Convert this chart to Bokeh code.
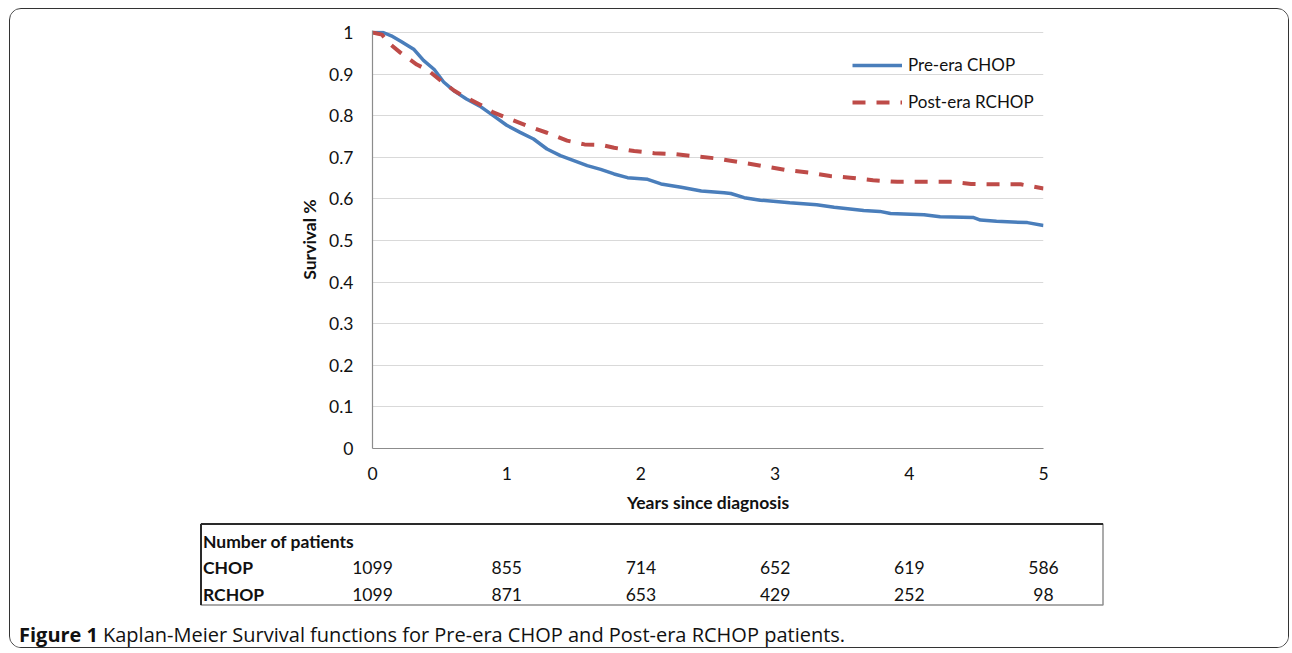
from bokeh.plotting import figure
from bokeh.layouts import column
from bokeh.models import Range1d, FixedTicker, Legend, LegendItem
from bokeh.core.properties import value
from bokeh.embed import file_html
from bokeh.resources import INLINE

# ---------------- data ----------------
chop_years = [0.00, 0.08, 0.14, 0.21, 0.31, 0.38, 0.46, 0.53, 0.61, 0.70, 0.80, 0.90,
              1.00, 1.10, 1.20, 1.30, 1.40, 1.50, 1.60, 1.70, 1.80, 1.90, 2.05, 2.15,
              2.30, 2.45, 2.62, 2.67, 2.77, 2.89, 3.11, 3.31, 3.44, 3.66, 3.78, 3.86,
              4.11, 4.23, 4.48, 4.53, 4.65, 4.88, 5.00]
chop_surv = [1.000, 1.000, 0.992, 0.979, 0.959, 0.933, 0.911, 0.881, 0.859, 0.840, 0.823, 0.800,
             0.777, 0.760, 0.744, 0.720, 0.704, 0.692, 0.680, 0.671, 0.660, 0.651, 0.647, 0.636,
             0.628, 0.619, 0.615, 0.613, 0.603, 0.597, 0.591, 0.586, 0.580, 0.572, 0.570, 0.565,
             0.562, 0.557, 0.555, 0.549, 0.546, 0.543, 0.536]

rchop_years = [0.00, 0.07, 0.12, 0.21, 0.33, 0.41, 0.51, 0.61, 0.70, 0.80, 0.90, 1.00,
               1.15, 1.30, 1.45, 1.58, 1.70, 1.80, 1.95, 2.10, 2.24, 2.39, 2.57, 2.74,
               2.91, 3.09, 3.26, 3.41, 3.56, 3.73, 3.91, 4.13, 4.31, 4.46, 4.66, 4.83, 5.00]
rchop_surv = [1.000, 0.995, 0.975, 0.951, 0.923, 0.910, 0.884, 0.860, 0.843, 0.827, 0.808, 0.795,
              0.776, 0.759, 0.740, 0.731, 0.730, 0.723, 0.715, 0.710, 0.708, 0.703, 0.697, 0.688,
              0.679, 0.669, 0.663, 0.655, 0.651, 0.645, 0.641, 0.641, 0.641, 0.636, 0.635, 0.635, 0.625]

series_labels = ["Pre-era CHOP", "Post-era RCHOP"]

x_ticks = [0, 1, 2, 3, 4, 5]
y_ticks = [0, 0.1, 0.2, 0.3, 0.4, 0.5, 0.6, 0.7, 0.8, 0.9, 1]
y_tick_labels = ["0", "0.1", "0.2", "0.3", "0.4", "0.5", "0.6", "0.7", "0.8", "0.9", "1"]

table_title = "Number of patients"
table_rows = ["CHOP", "RCHOP"]
table_years = [0, 1, 2, 3, 4, 5]
chop_at_risk = [1099, 855, 714, 652, 619, 586]
rchop_at_risk = [1099, 871, 653, 429, 252, 98]

x_title = "Years since diagnosis"
y_title = "Survival %"
caption_bold = "Figure 1"
caption_text = "Kaplan-Meier Survival functions for Pre-era CHOP and Post-era RCHOP patients."

# ---------------- layout ----------------
MX, MY, BW = 9, 8, 1.5            # outer box offset on page, border width
OX, OY = MX + BW, MY + BW          # content origin on page
W = 1278                           # content width
H1, H2 = 512, 126                  # chart part / table part heights
FL, FR, FT, FB = 362, 1033, 21, 439  # chart frame edges (canvas px)
PPY = (FR - FL) / 5.0              # pixels per year
PPU = 416.0                        # pixels per survival unit

def yr(page_x):
    return (page_x - OX - FL) / PPY

CHART_FONT = "Lato"
CAP_FONT = "Open Sans"
TXT = "#111111"
BLUE = "#4A7EBB"
RED = "#BE4B48"

p = figure(width=W, height=H1, output_backend="svg", toolbar_location=None, title=None,
           x_range=Range1d(0, 5), y_range=Range1d(0, (FB - FT) / PPU),
           min_border_left=FL, min_border_right=W - FR,
           min_border_top=FT, min_border_bottom=H1 - FB)
p.outline_line_color = None
p.frame_align = False

p.xaxis.ticker = FixedTicker(ticks=x_ticks)
p.yaxis.ticker = FixedTicker(ticks=y_ticks)
p.yaxis.major_label_overrides = dict(zip(y_ticks, y_tick_labels))
for ax in (p.xaxis[0], p.yaxis[0]):
    ax.major_tick_line_color = None
    ax.minor_tick_line_color = None
    ax.major_tick_out = 0
    ax.major_tick_in = 0
    ax.axis_line_color = "#8c8c8c"
    ax.axis_line_width = 1.2
    ax.major_label_text_font = CHART_FONT
    ax.major_label_text_font_size = "17.5px"
    ax.major_label_text_color = TXT
    ax.axis_label_text_font = CHART_FONT
    ax.axis_label_text_font_size = "17.5px"
    ax.axis_label_text_font_style = "bold"
    ax.axis_label_text_color = TXT
p.xaxis.axis_label = x_title
p.yaxis.axis_label = y_title
p.xaxis.major_label_standoff = 18
p.xaxis.axis_label_standoff = 9
p.yaxis.major_label_standoff = 19
p.yaxis.axis_label_standoff = 6

p.xgrid.grid_line_color = None
p.ygrid.grid_line_color = "#d9d9d9"
p.ygrid.grid_line_width = 1.2

r1 = p.line(chop_years, chop_surv, line_color=BLUE, line_width=3.5)
r2 = p.line(rchop_years, rchop_surv, line_color=RED, line_width=4, line_dash="13 11")

legend = Legend(items=[LegendItem(label=series_labels[0], renderers=[r1]),
                       LegendItem(label=series_labels[1], renderers=[r2])],
                location=(480, 336), padding=0, margin=0, spacing=16,
                glyph_width=50, glyph_height=20, label_height=20, label_standoff=6,
                label_text_font=CHART_FONT, label_text_font_size="17px",
                label_text_color=TXT,
                background_fill_alpha=0, border_line_alpha=0)
p.add_layout(legend)

# ---------- table + caption (page-pixel y, year-based x) ----------
t = figure(width=W, height=H2, output_backend="svg", toolbar_location=None, title=None,
           x_range=Range1d((0 - FL) / PPY, (W - FL) / PPY),
           y_range=Range1d(OY + H1 + H2, OY + H1),
           min_border=0, min_border_left=0, min_border_right=0,
           min_border_top=0, min_border_bottom=0)
t.axis.visible = False
t.grid.visible = False
t.outline_line_color = None
t.frame_align = False

T_L, T_R, T_T, T_B = 201, 1103, 524, 605
t.quad(left=[yr(T_L)], right=[yr(T_R)], top=[T_T], bottom=[T_B],
       fill_alpha=0, line_color="#8f8f8f", line_width=1.5)
t.segment(x0=[yr(T_L), yr(T_L)], y0=[T_T, T_T], x1=[yr(T_R), yr(T_L)], y1=[T_T, T_B],
          line_color="#2a2a2a", line_width=2)

row_y = [567, 594]
t.text(x=[yr(203)] * 3, y=[541] + row_y, text=[table_title] + table_rows,
       text_font=value(CHART_FONT), text_font_size="17.5px", text_font_style="bold",
       text_color=TXT, text_align="left", text_baseline="middle")
num_x = table_years + table_years
num_y = [row_y[0]] * len(table_years) + [row_y[1]] * len(table_years)
num_t = [str(n) for n in chop_at_risk] + [str(n) for n in rchop_at_risk]
t.text(x=num_x, y=num_y, text=num_t,
       text_font=value(CHART_FONT), text_font_size="17.5px",
       text_color=TXT, text_align="center", text_baseline="middle")

t.text(x=[yr(19)], y=[634], text=[caption_bold],
       text_font=value(CAP_FONT), text_font_size="20px", text_font_style="bold",
       text_color=TXT, text_align="left", text_baseline="middle")
t.text(x=[yr(103)], y=[634], text=[caption_text],
       text_font=value(CAP_FONT), text_font_size="20px",
       text_color=TXT, text_align="left", text_baseline="middle")

page = column(p, t, spacing=0,
              styles={"border": "1.5px solid #333333", "border-radius": "12px",
                      "overflow": "hidden", "margin-left": f"{MX}px",
                      "margin-top": f"{MY}px", "background": "white"})

open("out.html", "w").write(file_html(page, INLINE))
